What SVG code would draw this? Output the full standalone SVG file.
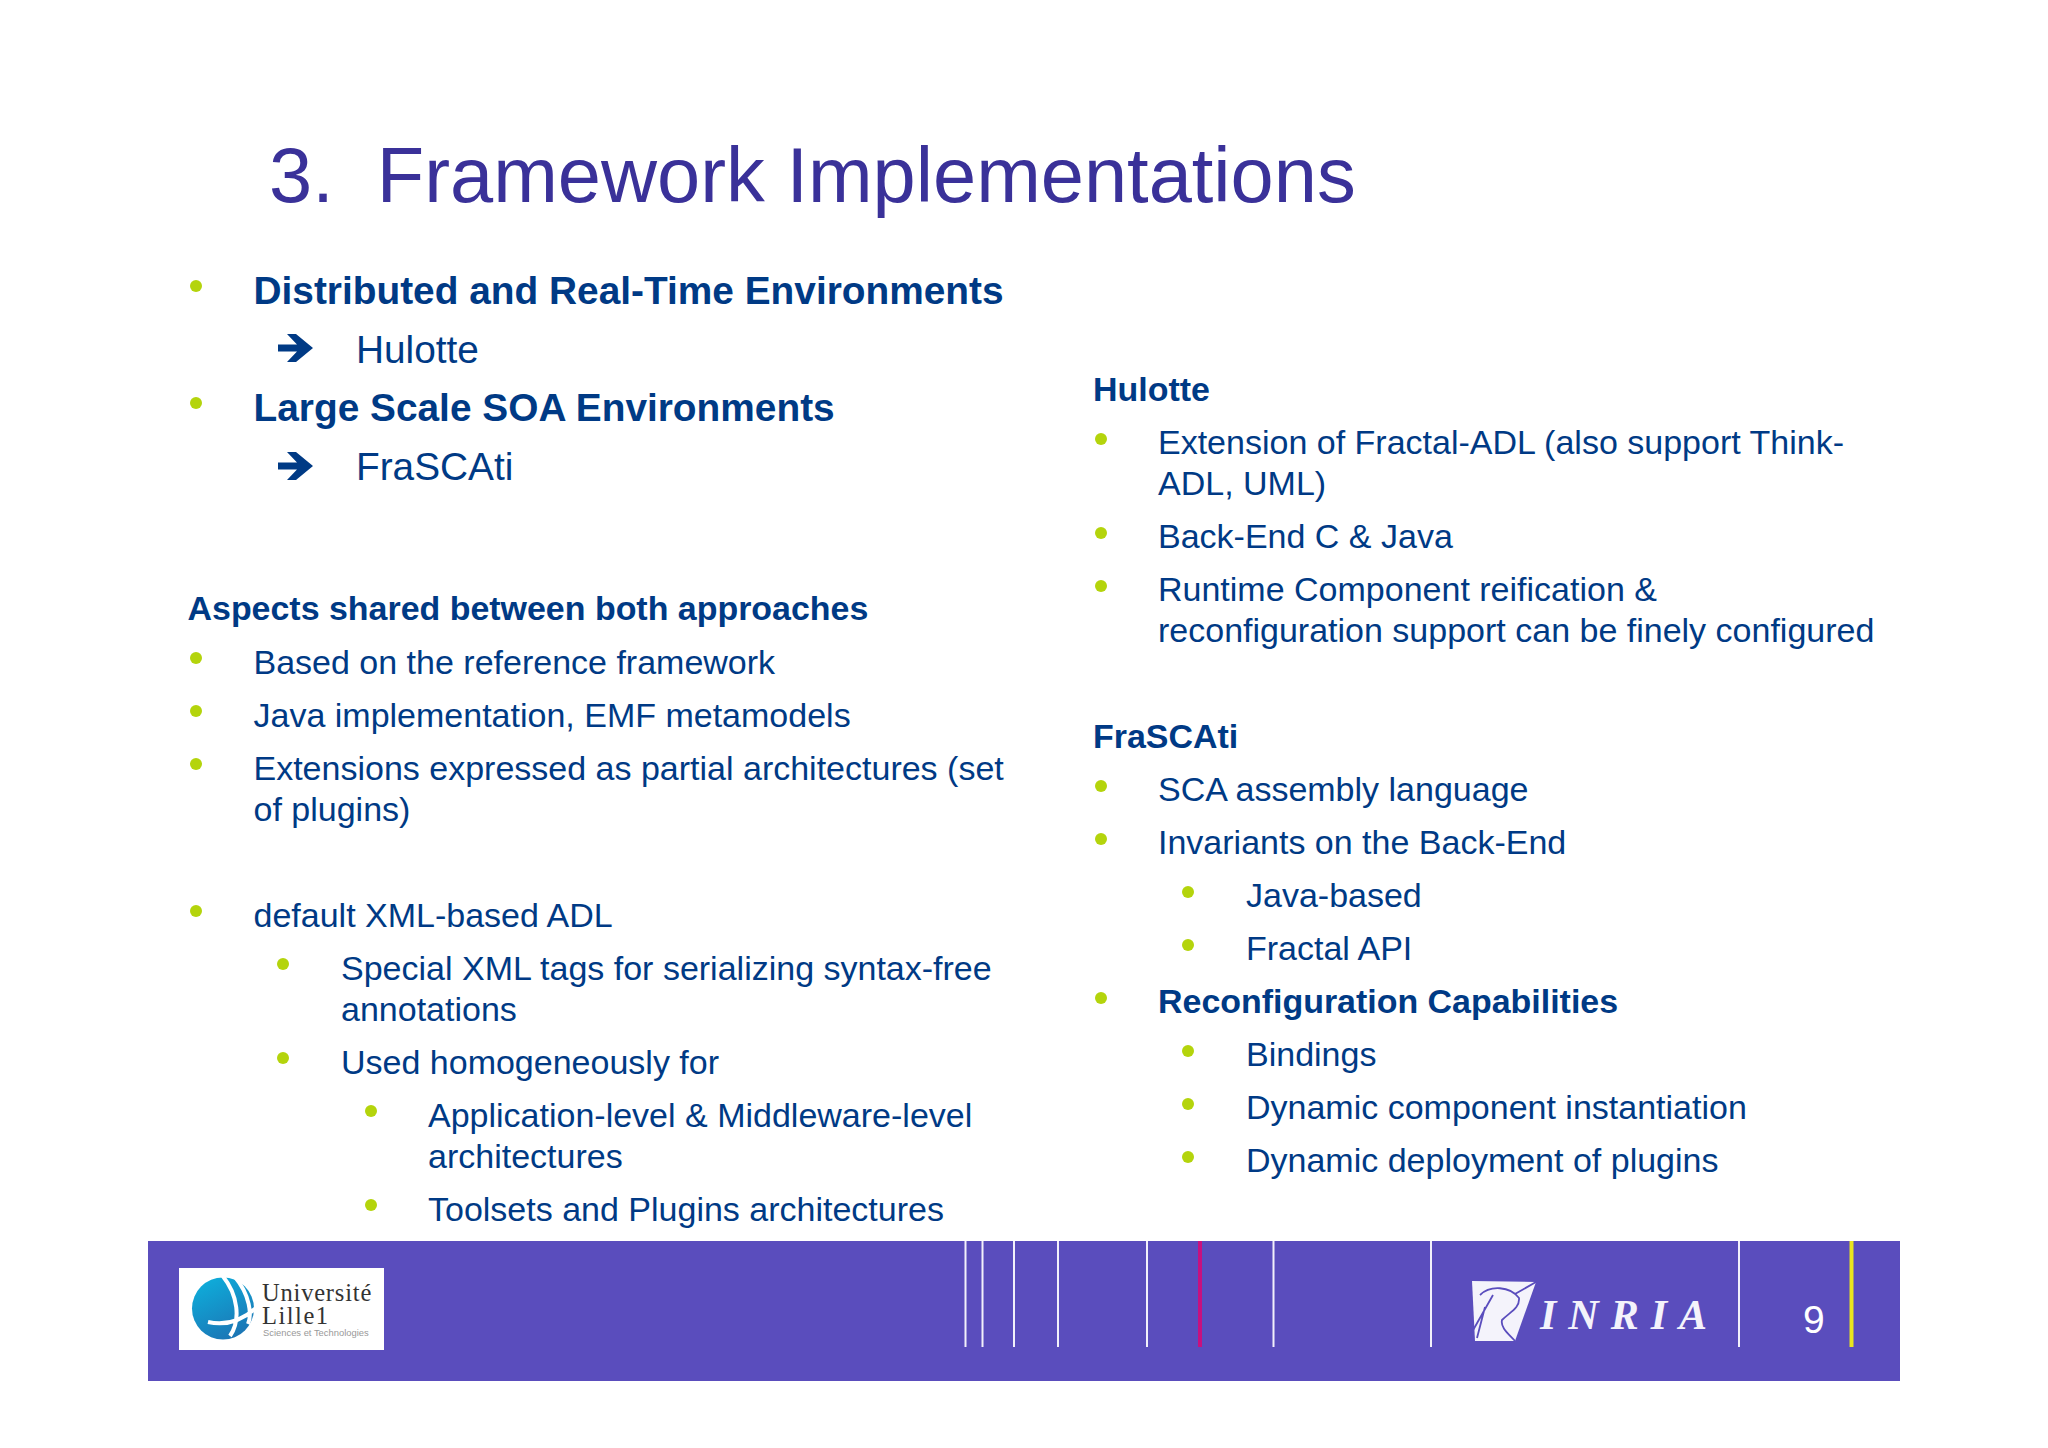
<svg xmlns="http://www.w3.org/2000/svg" width="2048" height="1448" viewBox="0 0 2048 1448">
<style>
text{font-family:"Liberation Sans",Arial,sans-serif;fill:#003a85}
.t{font-size:77.6px;fill:#3a3199}
.h1{font-size:38.850px;font-weight:bold}
.n1{font-size:38.800px}
.h2{font-size:33.950px;font-weight:bold}
.n2{font-size:34px}
.b{fill:#b4d40c}
.v{stroke:#f2f0fb;stroke-width:2}
.s{font-family:"Liberation Serif",serif}
</style>
<defs>
<circle id="bl" r="6" class="b"/>
<path id="arr" d="M0 10.5H19L9 0H18L35 14L18 28H9L19 17.5H0Z" fill="#003a85"/>
<linearGradient id="gl" x1="0.2" y1="0" x2="0.7" y2="1"><stop offset="0" stop-color="#0eaedb"/><stop offset="1" stop-color="#1c74b4"/></linearGradient>
</defs>
<rect width="2048" height="1448" fill="#fff"/>
<g id="title"><text class="t" x="269" y="202" xml:space="preserve">3.  Framework Implementations</text></g>
<g id="left-top">
<use href="#bl" x="196" y="286"/><text class="h1" x="253.500" y="304">Distributed and Real-Time Environments</text>
<use href="#arr" x="278" y="334"/><text class="n1" x="356" y="363">Hulotte</text>
<use href="#bl" x="196" y="403"/><text class="h1" x="253.500" y="421">Large Scale SOA Environments</text>
<use href="#arr" x="278" y="452"/><text class="n1" x="356" y="480">FraSCAti</text>
</g>
<g id="left-aspects">
<text class="h2" x="187.500" y="620">Aspects shared between both approaches</text>
<use href="#bl" x="196" y="658"/><text class="n2" x="253.500" y="674">Based on the reference framework</text>
<use href="#bl" x="196" y="711"/><text class="n2" x="253.500" y="727">Java implementation, EMF metamodels</text>
<use href="#bl" x="196" y="764"/><text class="n2" x="253.500" y="780">Extensions expressed as partial architectures (set</text>
<text class="n2" x="253.500" y="821">of plugins)</text>
<use href="#bl" x="196" y="911"/><text class="n2" x="253.500" y="927">default XML-based ADL</text>
<use href="#bl" x="283" y="964"/><text class="n2" x="341" y="980">Special XML tags for serializing syntax-free</text>
<text class="n2" x="341" y="1021">annotations</text>
<use href="#bl" x="283" y="1058"/><text class="n2" x="341" y="1074">Used homogeneously for</text>
<use href="#bl" x="371" y="1111"/><text class="n2" x="428" y="1127">Application-level &amp; Middleware-level</text>
<text class="n2" x="428" y="1168">architectures</text>
<use href="#bl" x="371" y="1205"/><text class="n2" x="428" y="1221">Toolsets and Plugins architectures</text>
</g>
<g id="right-hulotte">
<text class="h2" x="1093" y="401">Hulotte</text>
<use href="#bl" x="1101" y="439"/><text class="n2" x="1158" y="454">Extension of Fractal-ADL (also support Think-</text>
<text class="n2" x="1158" y="495">ADL, UML)</text>
<use href="#bl" x="1101" y="533"/><text class="n2" x="1158" y="548">Back-End C &amp; Java</text>
<use href="#bl" x="1101" y="586"/><text class="n2" x="1158" y="601">Runtime Component reification &amp;</text>
<text class="n2" x="1158" y="642">reconfiguration support can be finely configured</text>
</g>
<g id="right-frascati">
<text class="h2" x="1093" y="748">FraSCAti</text>
<use href="#bl" x="1101" y="786"/><text class="n2" x="1158" y="801">SCA assembly language</text>
<use href="#bl" x="1101" y="839"/><text class="n2" x="1158" y="854">Invariants on the Back-End</text>
<use href="#bl" x="1188" y="892"/><text class="n2" x="1246" y="907">Java-based</text>
<use href="#bl" x="1188" y="945"/><text class="n2" x="1246" y="960">Fractal API</text>
<use href="#bl" x="1101" y="998"/><text class="h2" x="1158" y="1013">Reconfiguration Capabilities</text>
<use href="#bl" x="1188" y="1051"/><text class="n2" x="1246" y="1066">Bindings</text>
<use href="#bl" x="1188" y="1104"/><text class="n2" x="1246" y="1119">Dynamic component instantiation</text>
<use href="#bl" x="1188" y="1157"/><text class="n2" x="1246" y="1172">Dynamic deployment of plugins</text>
</g>
<g id="footer">
<rect x="148" y="1241" width="1752" height="140" fill="#5a4dbd"/>
<path class="v" d="M965.5 1241V1347M982.5 1241V1347M1014 1241V1347M1058 1241V1347M1147 1241V1347M1273.5 1241V1347M1431 1241V1347M1739 1241V1347"/>
<path d="M1200 1241V1347" stroke="#c8107f" stroke-width="4"/>
<path d="M1851.500 1241V1347" stroke="#e9e51e" stroke-width="4"/>
<text x="1803" y="1333" font-size="39" style="fill:#fff">9</text>
</g>
<g id="logo-lille">
<rect x="179" y="1268" width="205" height="82" fill="#fff"/>
<circle cx="223" cy="1308.500" r="31" fill="url(#gl)"/>
<path d="M222.700 1276C238 1295 241 1320 230 1336M235 1277C250 1295 252 1315 248 1324M208 1322C225 1326 240 1322 256 1308" stroke="#fff" stroke-width="4" fill="none"/>
<text class="s" x="262" y="1301" font-size="24.500" letter-spacing="0.8" style="fill:#333">Université</text>
<text class="s" x="262" y="1324" font-size="24.500" letter-spacing="1.500" style="fill:#333">Lille1</text>
<text x="263" y="1336" font-size="9.400" style="fill:#999">Sciences et Technologies</text>
</g>
<g id="logo-inria">
<path d="M1472 1281L1536 1282L1515 1341L1475 1341Z" fill="#f4f3fb"/>
<path d="M1480 1295C1490 1285 1510 1286 1519 1298C1520 1308 1510 1312 1502 1320C1500 1328 1510 1335 1515 1341M1515 1294L1536 1282M1493 1295L1472 1332M1485 1307L1477 1338" stroke="#5a4dbd" stroke-width="1.800" fill="none"/>
<text class="s" x="1540" y="1329" font-size="42" font-style="italic" font-weight="bold" letter-spacing="12" style="fill:#f4f3fb">INRIA</text>
</g>
</svg>
